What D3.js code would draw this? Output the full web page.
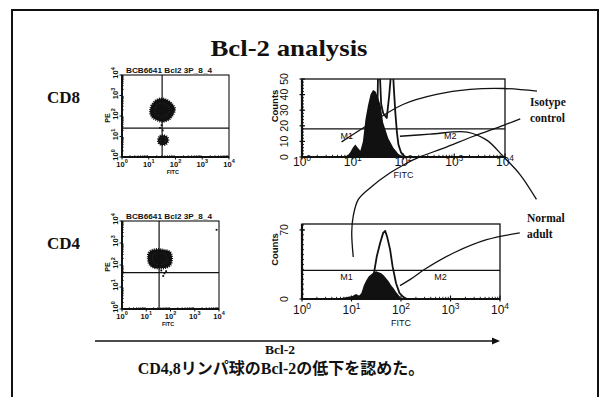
<!DOCTYPE html>
<html>
<head>
<meta charset="utf-8">
<script src="https://cdn.jsdelivr.net/npm/d3@7"></script>
<style>
  html, body { margin: 0; padding: 0; background: #fff; }
  svg { display: block; }
</style>
</head>
<body>
<svg id="fig" width="604" height="397"></svg>
<script>
// ---------------- data ----------------
const titleText = "Bcl-2 analysis";
const rowLabels = ["CD8", "CD4"];
const logDecades = [0, 1, 2, 3, 4];               // 10^0 … 10^4
const scatterHeaders = ["BCB6641 Bcl2 3P_8_4", "BCB6641 Bcl2 3P_8_4"];
const scatterYLabel = "PE";
const fitcLabel = "FITC";
const countsLabel = "Counts";

// quadrant cursors [log FITC, log PE]
const cd8Quadrant = [1.5, 1.41];
const cd4Quadrant = [1.53, 1.65];

// contour outlines of the event clusters, [log FITC, log PE]
const cd8Clusters = [
  [[1.05,2.2],[1.1,2.5],[1.25,2.75],[1.45,2.85],[1.65,2.8],[1.85,2.62],[1.98,2.35],[1.9,2.05],[1.75,1.82],[1.5,1.72],[1.3,1.8],[1.12,1.95]],
  [[1.35,0.85],[1.42,1.02],[1.55,1.06],[1.7,0.96],[1.72,0.75],[1.6,0.6],[1.45,0.6],[1.36,0.7]]
];
const cd8Specks = [[1.48,1.55],[1.42,1.42],[1.52,1.3]];
const cd4Clusters = [
  [[1.07,2.3],[1.1,2.55],[1.25,2.68],[1.5,2.72],[1.75,2.68],[1.98,2.6],[2.06,2.35],[2.0,2.0],[1.8,1.87],[1.55,1.85],[1.3,1.88],[1.12,2.05]]
];
const cd4Specks = [[1.62,1.75],[1.75,1.62],[1.7,1.5],[1.82,1.72],[3.9,3.6]];

// histogram axes
const cd8CountMax = 50, cd8CountTicks = [0, 10, 20, 30, 40, 50];
const cd4CountMax = 76, cd4CountTicks = [0, 70];
const cd8MarkerLevel = 18, cd4MarkerLevel = 29;
const markerNames = ["M1", "M2"];
const cd8MarkerLabelLog = [0.88, 2.92];
const cd4MarkerLabelLog = [0.9, 2.8];

// CD8 histograms: isotype control (filled) and normal adult (open)
const cd8IsoLog    = [0.85,0.9,0.95,1.0,1.05,1.1,1.15,1.2,1.25,1.3,1.35,1.4,1.45,1.5,1.55,1.6,1.65,1.7,1.75,1.8,1.85,1.9,1.95,2.0];
const cd8IsoCount  = [0,   1,  3,   6,  8,   6,  4,   10, 24,  33, 40,  43, 42,  38, 33,  22, 17,  12, 9,   6,  4,   2,  1,   0];
const cd8NormLog   = [0.85,1.0,1.2,1.4,1.45,1.48,1.5,1.53,1.56,1.6,1.67,1.72,1.76,1.79,1.81,1.84,1.87,1.9,1.95,2.0,2.05];
const cd8NormCount = [0,   1,  2,  3,  8,   20,  56, 56,  34,  28, 25,  40,  56,  56,  44,  28,  16,  8,  3,   1,  0];

// CD4 histograms
const cd4IsoLog    = [0.95,1.0,1.05,1.1,1.15,1.2,1.25,1.3,1.35,1.4,1.45,1.5,1.55,1.6,1.65,1.7,1.75,1.8,1.85,1.9,1.95,2.0,2.05];
const cd4IsoCount  = [0,   2,  4,   5,  3,   6,  14,  19, 23,  25, 27,  28, 27,  26, 24,  21, 18,  14, 11,  7,  4,   1,  0];
const cd4NormLog   = [0.8,1.0,1.2,1.3,1.38,1.42,1.46,1.51,1.58,1.64,1.68,1.72,1.78,1.83,1.9,1.97,2.05,2.12];
const cd4NormCount = [0,  2,  3,  3,  5,   14,  28,  43,  57,  67,  69,  63,  50,  33,  16, 6,   2,   0];

// callout labels and leader curves (points in the named panel's [log FITC, counts] units)
const calloutLabels = [["Isotype", "control"], ["Normal", "adult"]];
const isotypeLeaderTop = [[0.78,9.7],[1.34,21.3],[2.0,33.8],[2.65,40.1],[3.31,43.3],[3.97,43.9],[4.63,42.2]];
const isotypeLeaderDown = [[4.30,24.5],[3.97,20.3],[3.38,13.3],[2.78,5.5],[2.33,0.2],[2.0,-5.1],[1.73,-10.3],[1.34,-19.8],[1.11,-27.2],[1.01,-37.8],[0.98,-48.3],[1.01,-64.1]];
const normalLeaderTop = [[1.93,13.3],[2.52,14.6],[3.25,16.0],[3.64,10.8],[3.97,0.2],[4.30,-11.4],[4.62,-27.2]];
const normalLeaderBottom = [[4.40,66.9],[3.73,60.1],[3.06,46.6],[2.52,31.4],[2.18,19.6],[1.98,13.5]];

const axisCaption = "Bcl-2";
const conclusion = "CD4,8リンパ球のBcl-2の低下を認めた。";

// ---------------- drawing ----------------
const SERIF = "'Liberation Serif','Times New Roman','Noto Sans CJK JP',serif";
const SANS = "'Liberation Sans',Arial,sans-serif";
const INK = "#111";

const svg = d3.select("#fig");
svg.append("rect").attr("width", 604).attr("height", 397).attr("fill", "#fff");

// outer frame (open at the bottom)
svg.append("path")
  .attr("d", "M12,397V10H598V397")
  .attr("fill", "none").attr("stroke", INK).attr("stroke-width", 2);

svg.append("text")
  .attr("x", 289).attr("y", 56)
  .attr("text-anchor", "middle")
  .attr("font-family", SERIF).attr("font-weight", "bold").attr("font-size", 24)
  .attr("textLength", 157).attr("lengthAdjust", "spacingAndGlyphs")
  .attr("fill", INK).text(titleText);

const rowBaselines = [103, 249];
rowLabels.forEach((t, i) => {
  svg.append("text")
    .attr("x", 47).attr("y", rowBaselines[i])
    .attr("font-family", SERIF).attr("font-weight", "bold").attr("font-size", 17)
    .attr("fill", INK).text(t);
});

// "10" with a superscript exponent
function powerLabel(sel, exp, supSize) {
  sel.append("tspan").text("10");
  sel.append("tspan").attr("dy", -supSize * 0.55).attr("font-size", supSize).text(exp);
}

function scatterPanel(box, header, quadrant, clusters, specks) {
  const x = d3.scaleLinear().domain([0, 4]).range([box.x0, box.x1]);
  const y = d3.scaleLinear().domain([0, 4]).range([box.y1, box.y0]);
  const g = svg.append("g");

  const blob = d3.line().x(d => x(d[0])).y(d => y(d[1])).curve(d3.curveCatmullRomClosed);
  clusters.forEach(c => {
    g.append("path").attr("d", blob(c))
      .attr("fill", INK).attr("stroke", INK)
      .attr("stroke-width", 2.2).attr("stroke-dasharray", "1 1.1");
    // inner contour ring, drawn light to give the density texture
    const cx = x(d3.mean(c, p => p[0])), cy = y(d3.mean(c, p => p[1]));
    g.append("path").attr("d", blob(c))
      .attr("fill", "none").attr("stroke", "#777")
      .attr("stroke-width", 0.6).attr("stroke-dasharray", "0.8 2")
      .attr("transform", `translate(${cx},${cy}) scale(0.6) translate(${-cx},${-cy})`);
  });
  g.selectAll(".speck").data(specks).join("rect")
    .attr("x", d => x(d[0]) - 0.9).attr("y", d => y(d[1]) - 0.9)
    .attr("width", 1.8).attr("height", 1.8).attr("fill", INK);

  g.append("line")
    .attr("x1", x(quadrant[0])).attr("x2", x(quadrant[0]))
    .attr("y1", box.y0).attr("y2", box.y1)
    .attr("stroke", INK).attr("stroke-width", 1.2);
  g.append("line")
    .attr("x1", box.x0).attr("x2", box.x1)
    .attr("y1", y(quadrant[1])).attr("y2", y(quadrant[1]))
    .attr("stroke", INK).attr("stroke-width", 1.2);

  g.append("rect")
    .attr("x", box.x0).attr("y", box.y0)
    .attr("width", box.x1 - box.x0).attr("height", box.y1 - box.y0)
    .attr("fill", "none").attr("stroke", INK).attr("stroke-width", 1.1);
  g.append("line").attr("x1", box.x0).attr("x2", box.x0).attr("y1", box.y0).attr("y2", box.y1)
    .attr("stroke", INK).attr("stroke-width", 2);
  g.append("line").attr("x1", box.x0).attr("x2", box.x1).attr("y1", box.y1).attr("y2", box.y1)
    .attr("stroke", INK).attr("stroke-width", 2);

  // log minor ticks
  const minors = [];
  logDecades.slice(0, -1).forEach(d => d3.range(2, 10).forEach(k => minors.push(d + Math.log10(k))));
  g.selectAll(".mx").data(minors).join("line")
    .attr("x1", d => x(d)).attr("x2", d => x(d)).attr("y1", box.y1).attr("y2", box.y1 - 1.8)
    .attr("stroke", INK).attr("stroke-width", 0.8);
  g.selectAll(".my").data(minors).join("line")
    .attr("y1", d => y(d)).attr("y2", d => y(d)).attr("x1", box.x0).attr("x2", box.x0 + 1.8)
    .attr("stroke", INK).attr("stroke-width", 0.8);
  g.selectAll(".Mx").data(logDecades).join("line")
    .attr("x1", d => x(d)).attr("x2", d => x(d)).attr("y1", box.y1).attr("y2", box.y1 + 2.5)
    .attr("stroke", INK).attr("stroke-width", 1);
  g.selectAll(".My").data(logDecades).join("line")
    .attr("y1", d => y(d)).attr("y2", d => y(d)).attr("x1", box.x0).attr("x2", box.x0 - 2.5)
    .attr("stroke", INK).attr("stroke-width", 1);

  // tick labels
  logDecades.forEach(d => {
    const t = g.append("text")
      .attr("x", x(d)).attr("y", box.y1 + 9.5)
      .attr("text-anchor", "middle")
      .attr("font-family", SANS).attr("font-weight", "bold").attr("font-size", 7.5).attr("fill", INK);
    powerLabel(t, d, 5.5);
  });
  logDecades.forEach(d => {
    const t = g.append("text")
      .attr("transform", `translate(${box.x0 - 4},${y(d) - 2}) rotate(-90)`)
      .attr("text-anchor", "middle")
      .attr("font-family", SANS).attr("font-weight", "bold").attr("font-size", 7.5).attr("fill", INK);
    powerLabel(t, d, 5.5);
  });
  g.append("text")
    .attr("transform", `translate(${box.x0 - 12},${y(2) + 2}) rotate(-90)`)
    .attr("text-anchor", "middle")
    .attr("font-family", SANS).attr("font-weight", "bold").attr("font-size", 7).attr("fill", INK)
    .text(scatterYLabel);
  g.append("text")
    .attr("x", x(1.9)).attr("y", box.y1 + 16.5)
    .attr("text-anchor", "middle")
    .attr("font-family", SANS).attr("font-weight", "bold").attr("font-size", 5.5).attr("fill", INK)
    .text(fitcLabel);
  g.append("text")
    .attr("x", box.x0 + 4).attr("y", box.y0 - 2.5)
    .attr("font-family", SANS).attr("font-weight", "bold").attr("font-size", 6.5).attr("fill", INK)
    .attr("textLength", 86).attr("lengthAdjust", "spacingAndGlyphs")
    .text(header);
}

function histPanel(box, id, countMax, countTicks, minorStep, isoLog, isoCount, normLog, normCount,
                   markerLevel, markerLabelLog, labelBase) {
  const x = d3.scaleLinear().domain([0, 4]).range([box.x0, box.x1]);
  const y = d3.scaleLinear().domain([0, countMax]).range([box.y1, box.y0]);
  const g = svg.append("g");

  g.append("clipPath").attr("id", id)
    .append("rect").attr("x", box.x0).attr("y", box.y0)
    .attr("width", box.x1 - box.x0).attr("height", box.y1 - box.y0);
  const plot = g.append("g").attr("clip-path", `url(#${id})`);

  const iso = isoLog.map((v, i) => [v, isoCount[i]]);
  const norm = normLog.map((v, i) => [v, normCount[i]]);
  plot.append("path")
    .attr("d", d3.area().x(d => x(d[0])).y0(y(0)).y1(d => y(d[1]))(iso))
    .attr("fill", INK);
  plot.append("path")
    .attr("d", d3.line().x(d => x(d[0])).y(d => y(d[1]))(norm))
    .attr("fill", "none").attr("stroke", INK).attr("stroke-width", 1.8).attr("stroke-linejoin", "round");

  // M1 / M2 marker bar
  g.append("line")
    .attr("x1", box.x0).attr("x2", box.x1)
    .attr("y1", y(markerLevel)).attr("y2", y(markerLevel))
    .attr("stroke", INK).attr("stroke-width", 1.1);
  markerNames.forEach((m, i) => {
    g.append("text")
      .attr("x", x(markerLabelLog[i])).attr("y", y(markerLevel) + 10)
      .attr("text-anchor", "middle")
      .attr("font-family", SANS).attr("font-size", 9).attr("fill", INK)
      .text(m);
  });

  // frame
  g.append("rect")
    .attr("x", box.x0).attr("y", box.y0)
    .attr("width", box.x1 - box.x0).attr("height", box.y1 - box.y0)
    .attr("fill", "none").attr("stroke", INK).attr("stroke-width", 1.3);
  g.append("line").attr("x1", box.x0).attr("x2", box.x0).attr("y1", box.y0).attr("y2", box.y1)
    .attr("stroke", INK).attr("stroke-width", 2.2);
  g.append("line").attr("x1", box.x0).attr("x2", box.x1).attr("y1", box.y1).attr("y2", box.y1)
    .attr("stroke", INK).attr("stroke-width", 2);

  // ticks
  const minors = [];
  logDecades.slice(0, -1).forEach(d => d3.range(2, 10).forEach(k => minors.push(d + Math.log10(k))));
  g.selectAll(".mx").data(minors).join("line")
    .attr("x1", d => x(d)).attr("x2", d => x(d)).attr("y1", box.y1).attr("y2", box.y1 - 2.2)
    .attr("stroke", INK).attr("stroke-width", 0.9);
  g.selectAll(".Mx").data(logDecades).join("line")
    .attr("x1", d => x(d)).attr("x2", d => x(d)).attr("y1", box.y1 - 3.5).attr("y2", box.y1 + 2.5)
    .attr("stroke", INK).attr("stroke-width", 1.2);
  g.selectAll(".my").data(d3.range(0, countMax, minorStep)).join("line")
    .attr("y1", d => y(d)).attr("y2", d => y(d)).attr("x1", box.x0).attr("x2", box.x0 + 2)
    .attr("stroke", INK).attr("stroke-width", 0.9);
  g.selectAll(".My").data(countTicks).join("line")
    .attr("y1", d => y(d)).attr("y2", d => y(d)).attr("x1", box.x0 - 2.5).attr("x2", box.x0 + 3)
    .attr("stroke", INK).attr("stroke-width", 1.2);

  // labels
  logDecades.forEach(d => {
    const t = g.append("text")
      .attr("x", x(d)).attr("y", box.y1 + labelBase)
      .attr("text-anchor", "middle")
      .attr("font-family", SANS).attr("font-size", 12).attr("fill", INK);
    powerLabel(t, d, 8.5);
  });
  g.append("text")
    .attr("x", x(2)).attr("y", box.y1 + labelBase + 12)
    .attr("text-anchor", "middle")
    .attr("font-family", SANS).attr("font-size", 9).attr("fill", INK)
    .text(fitcLabel);
  countTicks.forEach(c => {
    g.append("text")
      .attr("transform", `translate(${box.x0 - 14},${y(c)}) rotate(-90)`)
      .attr("text-anchor", "middle")
      .attr("font-family", SANS).attr("font-size", 10.5).attr("fill", INK)
      .text(c);
  });
  g.append("text")
    .attr("transform", `translate(${box.x0 - 24},${(box.y0 + box.y1) / 2 - 12}) rotate(-90)`)
    .attr("text-anchor", "middle")
    .attr("font-family", SANS).attr("font-weight", "bold").attr("font-size", 9.5).attr("fill", INK)
    .text(countsLabel);

  return { x, y };
}

scatterPanel({ x0: 122, x1: 229, y0: 75, y1: 157 }, scatterHeaders[0], cd8Quadrant, cd8Clusters, cd8Specks);
scatterPanel({ x0: 122, x1: 219, y0: 221, y1: 309 }, scatterHeaders[1], cd4Quadrant, cd4Clusters, cd4Specks);

const cd8Hist = histPanel({ x0: 302, x1: 505, y0: 79, y1: 157 }, "clipCD8", cd8CountMax, cd8CountTicks, 2,
  cd8IsoLog, cd8IsoCount, cd8NormLog, cd8NormCount, cd8MarkerLevel, cd8MarkerLabelLog, 8.5);
const cd4Hist = histPanel({ x0: 302, x1: 500, y0: 224, y1: 299 }, "clipCD4", cd4CountMax, cd4CountTicks, 5,
  cd4IsoLog, cd4IsoCount, cd4NormLog, cd4NormCount, cd4MarkerLevel, cd4MarkerLabelLog, 14.5);

// leader curves
function leader(panel, pts) {
  svg.append("path")
    .attr("d", d3.line().x(d => panel.x(d[0])).y(d => panel.y(d[1])).curve(d3.curveCatmullRom)(pts))
    .attr("fill", "none").attr("stroke", INK).attr("stroke-width", 1.3);
}
leader(cd8Hist, isotypeLeaderTop);
leader(cd8Hist, isotypeLeaderDown);
leader(cd8Hist, normalLeaderTop);
leader(cd4Hist, normalLeaderBottom);

const calloutPos = [{ x: 530, y: 106 }, { x: 527, y: 222 }];
calloutLabels.forEach((lines, i) => {
  lines.forEach((s, j) => {
    svg.append("text")
      .attr("x", calloutPos[i].x).attr("y", calloutPos[i].y + j * 16)
      .attr("font-family", SERIF).attr("font-weight", "bold").attr("font-size", 11.5)
      .attr("fill", INK).text(s);
  });
});

// Bcl-2 direction arrow
const arrowScale = d3.scaleLinear().domain([0, 1]).range([95, 500]);
svg.append("line")
  .attr("x1", arrowScale(0)).attr("x2", arrowScale(1) - 5)
  .attr("y1", 341).attr("y2", 341)
  .attr("stroke", INK).attr("stroke-width", 1.6);
svg.append("path")
  .attr("d", `M${arrowScale(1)},341 l-8,-3.5 v7 z`)
  .attr("fill", INK);

svg.append("text")
  .attr("x", 280).attr("y", 354)
  .attr("text-anchor", "middle")
  .attr("font-family", SERIF).attr("font-weight", "bold").attr("font-size", 13.5)
  .attr("fill", INK).text(axisCaption);
svg.append("text")
  .attr("x", 281).attr("y", 374)
  .attr("text-anchor", "middle")
  .attr("font-family", SERIF).attr("font-weight", "bold").attr("font-size", 16)
  .attr("fill", INK).text(conclusion);
</script>
</body>
</html>
